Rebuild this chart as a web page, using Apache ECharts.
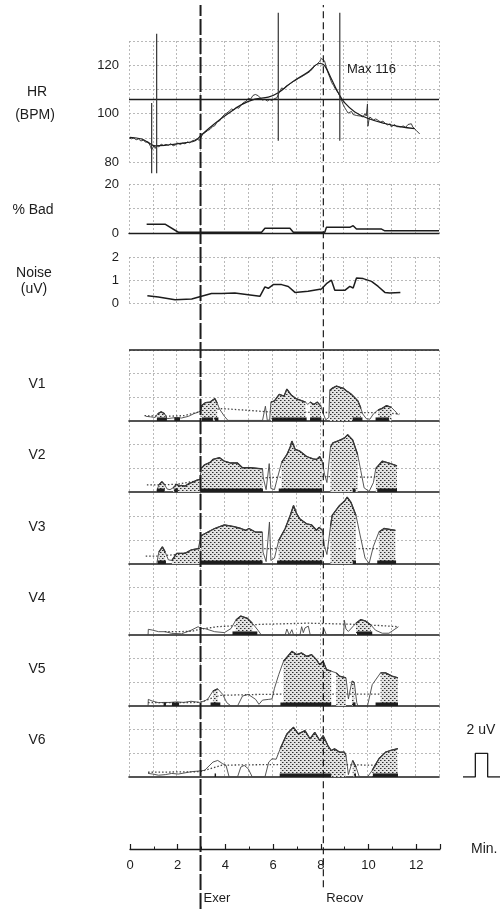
<!DOCTYPE html>
<html><head><meta charset="utf-8">
<script src="https://cdn.jsdelivr.net/npm/echarts@6/dist/echarts.min.js"></script>
<style>html,body{margin:0;padding:0;background:#fff}#c{width:503px;height:909px}</style>
</head><body><div id="c"></div>
<script>
// ---------- time axis ----------
const timeTicks = [0, 2, 4, 6, 8, 10, 12];
const exerStart = 3;      // minutes
const recovStart = 8.15;  // minutes

// ---------- heart rate (BPM) ----------
const hrTicks = [80, 100, 120];
const hrThreshold = 105.8;
const hrMax = 116;
const hrRaw = [[0.0,90.0],[0.1,89.6],[0.2,89.9],[0.3,89.2],[0.4,89.5],[0.5,88.7],[0.6,89.0],[0.7,88.2],[0.8,88.4],[0.9,86.5],[0.95,85.0],[1.0,84.5],[1.05,86.8],[1.1,85.6],[1.16,86.9],[1.25,86.2],[1.35,87.4],[1.45,86.8],[1.55,87.3],[1.65,86.9],[1.75,87.6],[1.85,86.7],[1.95,87.1],[2.05,87.9],[2.15,87.2],[2.25,87.8],[2.35,87.5],[2.45,88.3],[2.55,87.9],[2.65,88.8],[2.75,89.0],[2.85,89.6],[2.95,88.9],[3.02,89.5],[3.1,91.6],[3.2,92.2],[3.3,93.0],[3.4,93.5],[3.5,94.6],[3.6,95.0],[3.7,96.6],[3.8,97.0],[3.9,98.5],[4.0,99.6],[4.1,100.2],[4.2,101.0],[4.3,101.9],[4.4,101.5],[4.5,102.6],[4.6,102.2],[4.7,103.5],[4.8,104.6],[4.9,105.0],[5.0,106.3],[5.1,106.0],[5.2,107.5],[5.3,107.9],[5.42,107.4],[5.5,106.5],[5.6,105.6],[5.7,105.9],[5.8,105.2],[5.9,105.8],[6.0,105.4],[6.1,106.2],[6.2,106.5],[6.3,108.8],[6.4,110.6],[6.5,110.2],[6.6,111.5],[6.7,111.9],[6.8,112.6],[6.9,113.3],[7.0,113.8],[7.1,114.5],[7.2,115.0],[7.3,115.6],[7.4,116.2],[7.5,116.8],[7.6,117.5],[7.7,118.6],[7.8,119.8],[7.9,120.6],[8.0,121.6],[8.07,122.8],[8.14,123.0],[8.2,121.8],[8.28,119.0],[8.35,116.8],[8.42,115.0],[8.5,112.8],[8.58,111.6],[8.63,110.6],[8.7,109.8],[8.78,108.4],[8.85,107.0],[8.91,105.6],[8.98,103.8],[9.05,102.4],[9.12,101.3],[9.19,100.2],[9.26,100.8],[9.33,100.9],[9.4,99.6],[9.47,99.9],[9.55,99.2],[9.62,99.6],[9.7,99.0],[9.75,99.4],[9.82,98.6],[9.89,100.0],[9.95,99.0],[10.0,104.0],[10.02,94.8],[10.06,97.2],[10.1,98.6],[10.17,98.0],[10.25,97.4],[10.35,97.8],[10.45,97.2],[10.55,96.5],[10.65,96.9],[10.75,95.9],[10.85,95.3],[10.95,95.8],[11.0,94.5],[11.07,95.0],[11.14,95.5],[11.22,94.6],[11.3,95.1],[11.4,94.5],[11.5,94.9],[11.6,94.3],[11.7,95.5],[11.78,96.3],[11.84,95.8],[11.9,94.5],[11.98,93.8],[12.05,93.0],[12.12,92.4],[12.19,91.6]];
const hrSmooth = [[0.04,90.2],[0.53,89.5],[0.81,88],[1.09,86.7],[1.5,86.9],[1.93,87.4],[2.4,88.0],[2.77,88.8],[3.04,91.2],[3.6,95.9],[4.16,100],[4.72,103.7],[5.28,106],[5.84,106.8],[6.26,108.6],[6.82,112.9],[7.51,117.2],[8.0,120.7],[8.15,120.3],[8.28,118.6],[8.49,114.3],[8.77,108.7],[9.05,104.4],[9.47,100.7],[10.03,98],[10.73,95.9],[11.42,94.5],[11.98,93.8]];
// artefact spikes: [minute, top BPM, bottom BPM]
const hrSpikes = [[0.95,104.4,75.3],[1.16,133,75.3],[6.26,141.7,88.8],[8.84,141.7,88.8]];

// ---------- % bad beats ----------
const badTicks = [0, 20];
const badPct = [[0.74,3.6],[1.51,3.6],[2.07,0.3],[5.56,0.3],[5.7,1.9],[6.75,1.9],[6.89,0.3],[8.21,0.3],[8.28,2.3],[9.26,2.3],[9.4,3.0],[9.54,1.6],[10.59,1.6],[10.73,0.9],[13,0.9]];

// ---------- noise (uV) ----------
const noiseTicks = [0, 1, 2];
const noiseUv = [[0.77,0.32],[1.23,0.26],[1.93,0.14],[2.63,0.17],[3.04,0.29],[3.46,0.41],[3.88,0.41],[4.44,0.43],[5.0,0.36],[5.49,0.29],[5.7,0.7],[5.84,0.64],[6.05,0.8],[6.4,0.8],[6.68,0.72],[6.96,0.46],[7.51,0.51],[8.07,0.61],[8.28,0.84],[8.49,0.99],[8.63,0.55],[9.05,0.55],[9.26,0.72],[9.4,0.65],[9.54,1.09],[9.82,1.06],[10.17,0.94],[10.45,0.72],[10.73,0.46],[10.94,0.43],[11.38,0.46]];

// ---------- leads (uV over minutes) ----------
const v1Outline = [[0.7,0.4],[0.9,0.35],[1.1,0.3],[1.2,0.6],[1.35,0.78],[1.5,0.6],[1.6,0.2],[1.8,0.25],[2.0,0.3],[2.2,0.25],[2.5,0.4],[2.7,0.6],[2.9,0.75],[3.0,0.85],[3.05,1.3],[3.2,1.55],[3.4,1.6],[3.5,1.75],[3.6,1.9],[3.7,1.5],[3.8,1.0],[4.0,0.4],[4.15,0.05],[5.6,0.05],[5.72,1.25],[5.8,0.05],[5.9,0.1],[5.95,1.6],[6.1,1.7],[6.3,2.25],[6.5,2.1],[6.62,2.7],[6.8,2.2],[7.0,1.9],[7.2,1.75],[7.4,1.6],[7.5,1.4],[7.6,1.6],[7.75,1.4],[7.9,1.6],[8.05,1.25],[8.15,0.6],[8.25,0.1],[8.38,0.3],[8.42,2.6],[8.55,2.8],[8.7,2.95],[8.85,2.85],[9.0,2.75],[9.15,2.5],[9.3,2.3],[9.45,2.0],[9.6,1.7],[9.72,1.1],[9.8,0.6],[9.95,0.2],[10.1,0.15],[10.25,0.6],[10.45,0.95],[10.6,1.05],[10.8,1.3],[11.0,1.15],[11.2,0.75],[11.3,0.5]];
const v1Fill = [[1.2,1.55],[3.0,3.75],[5.95,7.45],[7.55,8.05],[8.42,9.75],[10.3,11.1]];
const v1Bars = [[1.17,1.59],[1.9,2.14],[3.06,3.52],[3.59,3.75],[6.0,7.45],[7.59,8.07],[9.38,9.79],[10.34,10.9]];
const v1Threshold = [[0.65,0.45],[1.5,0.4],[2.3,0.45],[3.0,0.8],[3.9,1.05],[5.0,0.9],[5.8,0.78],[7.0,0.75],[8.2,0.72],[9.0,0.72],[10.0,0.7],[10.6,0.7],[11.35,0.6]];

const v2Outline = [[1.17,0.1],[1.25,0.6],[1.38,0.87],[1.5,0.6],[1.6,0.25],[1.72,0.2],[1.85,0.35],[2.0,0.65],[2.1,0.5],[2.2,0.55],[2.35,0.5],[2.5,0.7],[2.7,0.85],[2.85,1.0],[2.97,1.06],[3.03,2.0],[3.17,2.3],[3.4,2.5],[3.52,2.75],[3.8,2.9],[4.0,2.6],[4.27,2.45],[4.55,2.45],[4.62,2.3],[4.76,2.05],[5.1,2.05],[5.6,1.95],[5.63,1.2],[5.75,0.2],[5.88,2.4],[5.95,0.3],[6.1,0.2],[6.2,1.0],[6.4,2.5],[6.62,3.15],[6.76,3.8],[6.83,4.3],[6.97,3.6],[7.17,3.45],[7.45,3.0],[7.72,2.8],[7.86,2.75],[8.0,3.0],[8.1,2.6],[8.2,1.5],[8.3,0.8],[8.45,3.8],[8.55,4.15],[8.8,4.35],[9.03,4.55],[9.17,4.85],[9.38,4.4],[9.59,3.15],[9.72,1.8],[9.86,0.35],[10.07,0.05],[10.25,0.8],[10.35,2.0],[10.62,2.6],[10.9,2.45],[11.24,2.2]];
const v2Fill = [[1.2,1.55],[1.85,2.97],[3.0,5.62],[6.3,8.12],[8.42,9.6],[10.3,11.25]];
const v2Bars = [[1.17,1.5],[1.9,2.05],[3.0,5.62],[6.28,8.1],[9.38,9.5],[10.41,11.24]];
const v2Threshold = [[0.75,0.6],[1.2,0.6],[2.0,0.65],[3.0,1.0],[4.0,1.1],[5.7,1.2],[6.3,1.25],[8.2,1.3],[9.0,1.28],[10.0,1.26],[11.25,1.3]];

const v3Outline = [[1.17,0.1],[1.25,1.0],[1.4,1.45],[1.52,1.0],[1.65,0.35],[1.8,0.3],[2.0,0.9],[2.07,1.05],[2.35,0.9],[2.62,1.2],[2.9,1.3],[2.97,1.3],[3.03,2.4],[3.31,2.7],[3.59,3.0],[4.0,3.3],[4.41,3.15],[4.69,3.0],[4.9,2.85],[5.03,3.0],[5.3,2.7],[5.59,2.7],[5.62,1.0],[5.75,0.2],[5.89,3.55],[5.95,0.3],[6.1,0.5],[6.28,2.0],[6.55,3.0],[6.76,4.1],[6.9,4.95],[7.03,4.25],[7.17,3.8],[7.45,3.4],[7.66,3.3],[7.86,2.85],[7.97,3.1],[8.11,2.85],[8.2,1.5],[8.3,0.8],[8.45,3.2],[8.52,4.1],[8.83,4.95],[9.03,5.3],[9.15,5.65],[9.31,5.2],[9.52,4.1],[9.69,2.45],[9.9,0.5],[10.07,0.05],[10.25,1.5],[10.48,2.7],[10.69,3.0],[11.17,2.85]];
const v3Fill = [[1.2,1.55],[1.8,2.97],[3.0,5.6],[6.2,8.12],[8.45,9.55],[10.3,11.2]];
const v3Bars = [[1.2,1.55],[3.0,5.6],[6.21,8.11],[9.38,9.52],[10.41,11.2]];
const v3Threshold = [[0.7,0.67],[1.2,0.67],[2.0,0.8],[3.0,1.2],[5.7,1.3],[8.2,1.35],[9.7,1.3],[10.3,1.3],[11.2,1.3]];

const v4Outline = [[0.8,0],[0.81,0.48],[0.97,0.42],[1.24,0.28],[1.52,0.28],[1.79,0.14],[2.2,0.1],[2.6,0.4],[2.9,0.7],[3.0,0.55],[3.17,0.55],[3.59,0.28],[4.0,0.2],[4.28,0.55],[4.48,1.26],[4.69,1.6],[4.97,1.4],[5.17,1.0],[5.41,0.4],[5.55,0],[6.55,0],[6.62,0.5],[6.72,0],[6.83,0.45],[6.9,0],[7.17,0],[7.24,0.7],[7.31,0.2],[7.38,0.6],[7.52,0.75],[7.6,0],[8.1,0],[8.17,0.55],[8.28,0],[9.0,0.05],[9.03,1.25],[9.1,0.5],[9.2,0.3],[9.52,1.0],[9.72,1.3],[9.93,1.17],[10.14,0.85],[10.34,0.4],[10.62,0.15],[10.9,0.15],[11.3,0.7]];
const v4Fill = [[4.34,5.25],[9.52,10.2]];
const v4Bars = [[4.34,5.38],[9.56,10.2]];
const v4Threshold = [[1.5,0.28],[2.6,0.3],[3.0,0.5],[3.7,0.7],[5.5,0.9],[6.5,0.95],[7.5,1.0],[8.5,0.95],[9.5,0.9],[10.5,0.8],[11.3,0.7]];

const v5Outline = [[0.8,0],[0.81,0.56],[0.97,0.42],[1.24,0.28],[1.45,0.3],[1.7,0.3],[2.0,0.35],[2.3,0.3],[2.6,0.4],[2.97,0.3],[3.17,0.42],[3.31,0.6],[3.52,1.26],[3.72,1.45],[3.93,0.98],[4.1,0.28],[4.28,0],[4.55,0],[4.76,0.84],[5.0,0.98],[5.31,0.56],[5.45,0.14],[5.6,0.5],[5.86,0.56],[6.0,0.6],[6.1,1.5],[6.28,2.66],[6.48,3.78],[6.83,4.62],[7.03,4.34],[7.24,4.48],[7.45,4.2],[7.66,4.34],[7.86,3.92],[8.0,3.5],[8.14,3.78],[8.28,3.08],[8.48,2.94],[8.69,2.8],[8.83,2.52],[9.1,2.38],[9.2,0.6],[9.35,2.1],[9.45,1.96],[9.55,0.3],[9.6,0],[10.0,0],[10.2,1.8],[10.55,2.8],[10.76,2.8],[11.03,2.52],[11.28,2.38]];
const v5Fill = [[3.42,3.83],[6.35,8.5],[8.55,9.15],[9.3,9.5],[10.3,11.28]];
const v5Bars = [[1.45,1.55],[1.8,2.1],[3.42,3.83],[6.35,8.48],[9.38,9.5],[10.34,11.28]];
const v5Threshold = [[0.8,0.28],[2.97,0.3],[3.8,0.9],[5.5,0.98],[6.5,1.0],[8.5,1.0],[10.0,1.0],[11.3,1.0]];

const v6Outline = [[0.8,0.3],[1.0,0.25],[1.24,0.15],[1.52,0.2],[1.79,0.3],[2.07,0.25],[2.35,0.35],[2.62,0.45],[2.9,0.5],[3.17,0.56],[3.52,1.26],[3.72,1.4],[3.93,1.12],[4.07,0.98],[4.2,0],[4.55,0],[4.69,0.84],[4.83,0.98],[5.0,0.7],[5.17,0],[5.7,0],[5.86,1.26],[6.0,1.54],[6.17,1.5],[6.34,2.38],[6.62,3.64],[6.9,4.2],[7.1,3.64],[7.38,3.92],[7.59,3.22],[7.79,3.78],[8.0,3.08],[8.14,3.5],[8.34,2.66],[8.48,2.24],[8.62,2.38],[8.83,2.1],[9.03,2.1],[9.1,1.82],[9.2,0.2],[9.38,1.4],[9.52,0.84],[9.66,0],[10.0,0],[10.2,0.56],[10.48,1.54],[10.76,2.1],[10.97,2.24],[11.24,2.38],[11.28,2.4]];
const v6Fill = [[6.32,9.12],[9.3,9.55],[10.2,11.28]];
const v6Bars = [[3.59,3.65],[6.32,8.48],[9.45,9.52],[10.23,11.28]];
const v6Threshold = [[0.8,0.4],[3.0,0.45],[3.9,1.0],[5.5,1.04],[7.0,1.04],[9.0,1.04],[10.2,1.0],[11.3,1.04]];

const leadNames = ['V1', 'V2', 'V3', 'V4', 'V5', 'V6'];
const leadOutlines = [v1Outline, v2Outline, v3Outline, v4Outline, v5Outline, v6Outline];
const leadFills = [v1Fill, v2Fill, v3Fill, v4Fill, v5Fill, v6Fill];
const leadBars = [v1Bars, v2Bars, v3Bars, v4Bars, v5Bars, v6Bars];
const leadThresholds = [v1Threshold, v2Threshold, v3Threshold, v4Threshold, v5Threshold, v6Threshold];

// calibration pulse: 2 uV
const pulseUv = 2;

// ---------- layout / styling ----------
const FONT = "'Liberation Sans', Arial, sans-serif";
const INK = '#1c1c1c';
const GRID_LINE = { color: '#a8a8a8', width: 0.8, type: [2, 2] };
const PLOT_LEFT = 129, PLOT_WIDTH = 310;
const LEAD_TOPS = [350, 421, 493, 564, 635, 706];
const LEAD_H = 71;
const BAR_H = 0.3;

// staggered dot texture for the shaded segments
function stipple() {
  const c = document.createElement('canvas');
  c.width = 4; c.height = 4;
  const g = c.getContext('2d');
  g.fillStyle = '#e2e2e2'; g.fillRect(0, 0, 4, 4);
  g.fillStyle = '#2e2e2e';
  g.fillRect(0, 0, 1, 1);
  g.fillRect(2, 2, 1, 1);
  g.fillStyle = '#8a8a8a';
  g.fillRect(1, 0, 1, 1);
  g.fillRect(3, 2, 1, 1);
  return c;
}
const STIPPLE = { image: stipple(), repeat: 'repeat' };

// points of the outline inside each shaded range, ranges separated by gaps
function fillSegments(outline, ranges) {
  const out = [];
  ranges.forEach((r, i) => {
    if (i > 0) out.push([(ranges[i - 1][1] + r[0]) / 2, null]);
    outline.forEach(p => { if (p[0] >= r[0] - 1e-9 && p[0] <= r[1] + 1e-9) out.push(p); });
  });
  return out;
}

function spikeSegments(spikes) {
  const out = [];
  spikes.forEach((s, i) => {
    if (i > 0) out.push([s[0], null]);
    out.push([s[0], s[1]], [s[0], s[2]]);
  });
  return out;
}

const grids = [], xAxes = [], yAxes = [], series = [];

function addGrid(g, x, y) {
  grids.push(Object.assign({ left: PLOT_LEFT, width: PLOT_WIDTH, containLabel: false }, g));
  const gi = grids.length - 1;
  xAxes.push(Object.assign({
    gridIndex: gi, type: 'value', min: 0, max: 13, interval: 1,
    axisLabel: { show: false }, axisTick: { show: false }, axisLine: { show: false },
    splitLine: { show: true, lineStyle: GRID_LINE }
  }, x));
  yAxes.push(Object.assign({
    gridIndex: gi, type: 'value',
    axisLabel: { show: false }, axisTick: { show: false }, axisLine: { show: false },
    splitLine: { show: true, lineStyle: GRID_LINE }
  }, y));
  return gi;
}

const tickLabel = { show: true, color: INK, fontFamily: FONT, fontSize: 13, margin: 10 };

// HR panel
const gHr = addGrid({ top: 41, height: 121 }, {}, {
  min: 80, max: 130, interval: 10,
  axisLabel: Object.assign({}, tickLabel, { formatter: v => hrTicks.includes(v) ? String(v) : '' })
});
series.push({
  type: 'line', xAxisIndex: gHr, yAxisIndex: gHr, data: hrRaw, symbol: 'none',
  lineStyle: { color: '#2a2a2a', width: 0.9 }, z: 3,
  markLine: { silent: true, symbol: 'none', label: { show: false },
    lineStyle: { color: INK, width: 1.3, type: 'solid' }, data: [{ yAxis: hrThreshold }] }
});
series.push({
  type: 'line', xAxisIndex: gHr, yAxisIndex: gHr, data: hrSmooth, symbol: 'none', smooth: 0.4,
  lineStyle: { color: INK, width: 1.2 }, z: 4
});
series.push({
  type: 'line', xAxisIndex: gHr, yAxisIndex: gHr, data: spikeSegments(hrSpikes), symbol: 'none',
  clip: false, connectNulls: false, lineStyle: { color: '#333', width: 1.2 }, z: 5
});

// % bad panel
const gBad = addGrid({ top: 184, height: 49 },
  { axisLine: { show: true, onZero: true, lineStyle: { color: INK, width: 1.3 } } },
  { min: 0, max: 20, interval: 10,
    axisLabel: Object.assign({}, tickLabel, { formatter: v => badTicks.includes(v) ? String(v) : '' }) });
series.push({
  type: 'line', xAxisIndex: gBad, yAxisIndex: gBad, data: badPct, symbol: 'none',
  lineStyle: { color: INK, width: 1.5 }, z: 3
});

// noise panel
const gNoise = addGrid({ top: 257, height: 46 }, {},
  { min: 0, max: 2, interval: 1,
    axisLabel: Object.assign({}, tickLabel, { formatter: v => noiseTicks.includes(v) ? String(v) : '' }) });
series.push({
  type: 'line', xAxisIndex: gNoise, yAxisIndex: gNoise, data: noiseUv, symbol: 'none',
  lineStyle: { color: INK, width: 1.5 }, z: 3
});

// lead panels
leadNames.forEach((name, i) => {
  const gi = addGrid({ top: LEAD_TOPS[i], height: LEAD_H },
    { axisLine: { show: true, onZero: false, lineStyle: { color: INK, width: 1.6 } } },
    { min: 0, max: 6, interval: 2,
      splitLine: { show: true, showMinLine: false, showMaxLine: i === 0, lineStyle: GRID_LINE } });
  // dotted reference level
  series.push({
    type: 'line', xAxisIndex: gi, yAxisIndex: gi, data: leadThresholds[i], symbol: 'none',
    lineStyle: { color: '#444', width: 1.3, type: [1.5, 2] }, z: 2
  });
  // stippled significant segments
  series.push({
    type: 'line', xAxisIndex: gi, yAxisIndex: gi, data: fillSegments(leadOutlines[i], leadFills[i]),
    symbol: 'none', connectNulls: false,
    lineStyle: { color: INK, width: 1.3 }, areaStyle: { color: STIPPLE, opacity: 1 }, z: 3
  });
  // full trend outline
  series.push({
    type: 'line', xAxisIndex: gi, yAxisIndex: gi, data: leadOutlines[i], symbol: 'none',
    lineStyle: { color: '#444', width: 0.9 }, z: 4,
    markLine: i === 0 ? { silent: true, symbol: 'none', label: { show: false },
      lineStyle: { color: INK, width: 1.6, type: 'solid' }, data: [{ yAxis: 6 }] } : undefined
  });
  // solid bars along the baseline
  series.push({
    type: 'custom', xAxisIndex: gi, yAxisIndex: gi, data: leadBars[i], encode: { x: [0, 1] }, z: 5,
    renderItem: (params, api) => {
      const a = api.coord([api.value(0), 0]);
      const b = api.coord([api.value(1), BAR_H]);
      return { type: 'rect', shape: { x: a[0], y: b[1], width: b[0] - a[0], height: a[1] - b[1] },
        style: { fill: '#1e1e1e' } };
    }
  });
});

// time axis
const gTime = addGrid({ top: 848, height: 1, left: 130 },
  { interval: 2, splitLine: { show: false },
    axisLine: { show: true, onZero: false, lineStyle: { color: INK, width: 1.3 } },
    axisTick: { show: true, inside: true, length: 5, lineStyle: { color: INK, width: 1.2 } },
    minorTick: { show: true, splitNumber: 2, length: 2.5, lineStyle: { color: INK, width: 1 } },
    axisLabel: Object.assign({}, tickLabel, { margin: 10, formatter: v => timeTicks.includes(v) ? String(v) : '' }) },
  { min: 0, max: 1, splitLine: { show: false } });

// phase markers across the whole page
const gPhase = addGrid({ top: 5, height: 904 }, { splitLine: { show: false } },
  { min: 0, max: 1, splitLine: { show: false } });
series.push({
  type: 'line', xAxisIndex: gPhase, yAxisIndex: gPhase, data: [[exerStart, 0], [exerStart, 1]],
  symbol: 'none', lineStyle: { color: INK, width: 2, type: [16, 3] }, z: 8
});
series.push({
  type: 'line', xAxisIndex: gPhase, yAxisIndex: gPhase, data: [[recovStart, 0.024], [recovStart, 1]],
  symbol: 'none', lineStyle: { color: INK, width: 1.2, type: [7, 4] }, z: 8
});

// calibration pulse, same vertical scale as the lead panels
const gPulse = addGrid({ left: 463, width: 37, top: LEAD_TOPS[5], height: LEAD_H },
  { min: 0, max: 3, splitLine: { show: false } },
  { min: 0, max: 6, splitLine: { show: false } });
series.push({
  type: 'line', xAxisIndex: gPulse, yAxisIndex: gPulse,
  data: [[0, 0], [1, 0], [1, pulseUv], [2, pulseUv], [2, 0], [3, 0]],
  symbol: 'none', lineStyle: { color: INK, width: 1.3 }
});

function txt(text, x, y, align, size) {
  return { type: 'text', x, y, silent: true, z: 20,
    style: { text, fill: INK, font: `${size || 14}px ${FONT}`, align: align || 'center', verticalAlign: 'middle' } };
}
const labels = [
  txt('HR', 37, 92), txt('(BPM)', 35, 115), txt('% Bad', 33, 210),
  txt('Noise', 34, 273), txt('(uV)', 34, 289),
  txt('Max ' + hrMax, 347, 69, 'left', 13),
  txt('Min.', 471, 849, 'left'), txt(pulseUv + ' uV', 481, 730)
];
leadNames.forEach((n, i) => labels.push(txt(n, 37, LEAD_TOPS[i] + 34)));

const chart = echarts.init(document.getElementById('c'), null, { renderer: 'canvas' });
chart.setOption({
  backgroundColor: '#ffffff',
  animation: false,
  grid: grids, xAxis: xAxes, yAxis: yAxes, series,
  graphic: labels
});
const exX = chart.convertToPixel({ xAxisIndex: gPhase }, exerStart);
const rcX = chart.convertToPixel({ xAxisIndex: gPhase }, recovStart);
chart.setOption({ graphic: labels.concat([txt('Exer', exX + 3, 898, 'left', 13), txt('Recov', rcX + 3, 898, 'left', 13)]) });
</script></body></html>
